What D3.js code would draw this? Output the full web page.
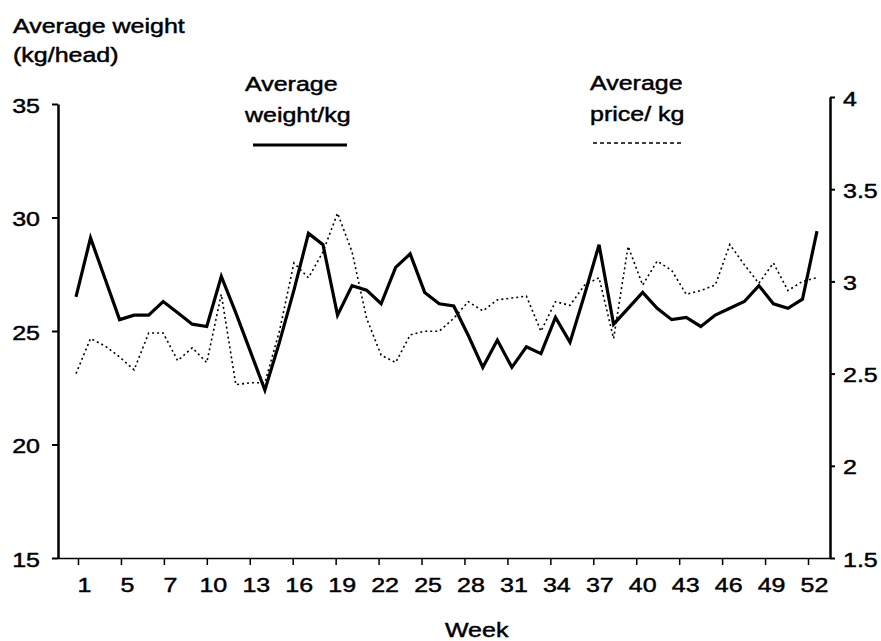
<!DOCTYPE html>
<html><head><meta charset="utf-8">
<script src="https://cdn.jsdelivr.net/npm/d3@7/dist/d3.min.js"></script>
<style>
body{margin:0;background:#fff}
text{font-family:"Liberation Sans",Arial,Helvetica,sans-serif;font-size:20px;fill:#000;stroke:#000;stroke-width:0.45px}
</style>
</head><body>
<svg id="chart" width="881" height="641"></svg>
<script>
// ---- data ----
const weeks = [1,2,3,4,5,6,7,8,9,10,11,12,13,14,15,16,17,18,19,20,21,22,23,24,25,26,
               27,28,29,30,31,32,33,34,35,36,37,38,39,40,41,42,43,44,45,46,47,48,49,50,51,52];
const avgWeight = [26.5,29.1,27.3,25.5,25.7,25.7,26.3,25.8,25.3,25.2,27.4,25.8,24.1,22.4,24.5,26.8,
                   29.3,28.8,25.7,27.0,26.8,26.2,27.8,28.4,26.7,26.2,26.1,24.8,23.4,24.6,23.4,24.3,
                   24.0,25.6,24.5,26.6,28.8,25.3,26.0,26.7,26.0,25.5,25.6,25.2,25.7,26.0,26.3,27.0,
                   26.2,26.0,26.4,29.4];
const avgPrice = [2.50,2.69,2.65,2.59,2.52,2.72,2.72,2.57,2.64,2.56,2.93,2.44,2.45,2.45,2.73,3.10,
                  3.02,3.16,3.37,3.16,2.80,2.60,2.56,2.71,2.73,2.73,2.80,2.89,2.84,2.90,2.91,2.92,
                  2.73,2.89,2.87,2.98,3.02,2.69,3.19,2.98,3.11,3.06,2.93,2.95,2.98,3.20,3.09,2.99,
                  3.10,2.95,3.00,3.02];
const weekTickLabels = ["1","5","7","10","13","16","19","22","25","28","31","34","37","40","43","46","49","52"];
const leftTicks = [15,20,25,30,35];
const rightTicks = [1.5,2,2.5,3,3.5,4];

// ---- layout ----
const svg = d3.select("#chart");
const SX = 1.25; // horizontal stretch of the scanned lettering
function stretch(sel){
  sel.each(function(){
    const t = d3.select(this);
    const x = +t.attr("x") || 0;
    t.attr("x", x / SX).attr("transform", `scale(${SX},1)`);
  });
}

const x = d3.scaleLinear().domain([1,52]).range([76,817]);
const xTicks = d3.scalePoint().domain(weekTickLabels).range([78,808]);
const yL = d3.scaleLinear().domain([15,35]).range([558,104]);
const yR = d3.scaleLinear().domain([1.5,4]).range([558,97]);

// left axis
const gL = svg.append("g").attr("transform","translate(58,0)")
  .call(d3.axisLeft(yL).tickValues(leftTicks).tickSize(6).tickSizeOuter(0).tickPadding(12));
gL.select(".domain").attr("stroke-width",2.5);
gL.selectAll(".tick line").attr("stroke-width",2);
gL.selectAll("text").attr("font-size",20).attr("font-family",null).attr("dy","0.4em");
stretch(gL.selectAll("text"));

// right axis
const gR = svg.append("g").attr("transform","translate(830,0)")
  .call(d3.axisRight(yR).tickValues(rightTicks).tickFormat(d=>String(d)).tickSize(5).tickSizeOuter(0).tickPadding(8));
gR.select(".domain").attr("stroke-width",2.5);
gR.selectAll(".tick line").attr("stroke-width",2);
gR.selectAll("text").attr("font-size",20).attr("font-family",null).attr("dy","0.4em");
stretch(gR.selectAll("text"));

// bottom axis
svg.append("line").attr("x1",58).attr("x2",830).attr("y1",558.5).attr("y2",558.5)
  .attr("stroke","#000").attr("stroke-width",1.5);
const gB = svg.append("g").attr("transform","translate(0,559)")
  .call(d3.axisBottom(xTicks).tickSize(6).tickPadding(13));
gB.select(".domain").remove();
gB.selectAll(".tick line").attr("stroke-width",1.5);
gB.selectAll("text").attr("font-size",20).attr("font-family",null).attr("x",6);
stretch(gB.selectAll("text"));

// lines
const lineW = d3.line().x((d,i)=>x(weeks[i])).y(d=>yL(d));
const lineP = d3.line().x((d,i)=>x(weeks[i])).y(d=>yR(d));
svg.append("path").datum(avgPrice).attr("d",lineP).attr("fill","none")
  .attr("stroke","#000").attr("stroke-width",1.6).attr("stroke-dasharray","2,3");
svg.append("path").datum(avgWeight).attr("d",lineW).attr("fill","none")
  .attr("stroke","#000").attr("stroke-width",3.2).attr("stroke-linejoin","miter");

// titles and legend text
const texts = [
  {t:"Average weight", x:13, y:33},
  {t:"(kg/head)", x:13, y:62},
  {t:"Average", x:245, y:91},
  {t:"weight/kg", x:245, y:122},
  {t:"Average", x:590, y:90},
  {t:"price/ kg", x:590, y:121},
  {t:"Week", x:445, y:637}
];
const tt = svg.append("g").selectAll("text").data(texts).join("text")
  .attr("x",d=>d.x).attr("y",d=>d.y).text(d=>d.t);
stretch(tt);

// legend samples
svg.append("line").attr("x1",253).attr("x2",347).attr("y1",145).attr("y2",145)
  .attr("stroke","#000").attr("stroke-width",3);
svg.append("line").attr("x1",593).attr("x2",683).attr("y1",143).attr("y2",143)
  .attr("stroke","#000").attr("stroke-width",1.6).attr("stroke-dasharray","4,3");
</script>
</body></html>
